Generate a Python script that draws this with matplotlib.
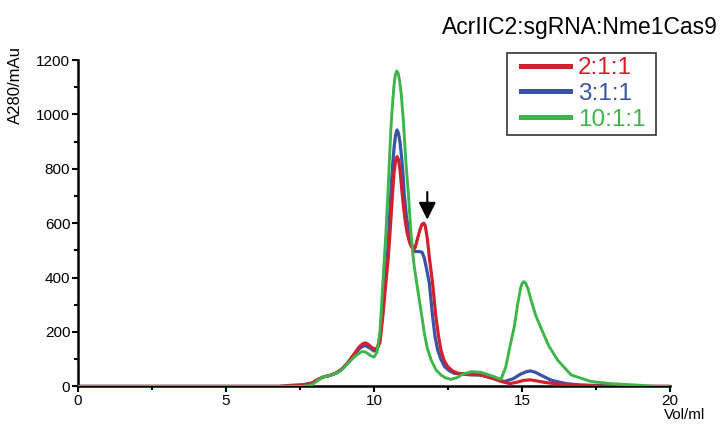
import matplotlib
matplotlib.use("Agg")
import matplotlib.pyplot as plt
from matplotlib.ticker import MultipleLocator
from matplotlib.patches import Rectangle

plt.rcParams['font.family'] = ['Liberation Sans', 'DejaVu Sans']

# elution volume (ml) and A280 (mAu)
red_vol = [0, 6.8, 7.2, 7.6, 7.9, 8.1, 8.3, 8.5, 8.7, 8.9, 9.1, 9.3, 9.5, 9.6, 9.7, 9.8,
           9.9, 10.0, 10.1, 10.2, 10.3, 10.4, 10.48, 10.55, 10.63, 10.68, 10.73, 10.78,
           10.83, 10.88, 10.95, 11.0, 11.05, 11.12, 11.2, 11.27, 11.33, 11.39, 11.45,
           11.55, 11.62, 11.68, 11.73, 11.8, 11.88, 11.98, 12.09, 12.18, 12.26, 12.37,
           12.49, 12.65, 12.83, 13.3, 13.6, 14.0, 14.3, 14.6, 14.85, 15.05, 15.28, 15.5,
           15.8, 16.2, 16.6, 17.5, 18.0, 20]
red_abs = [0, 0, 2, 5, 12, 25, 35, 40, 48, 62, 85, 115, 145, 155, 160, 155,
           145, 138, 140, 160, 260, 380, 470, 580, 715, 790, 830, 845,
           833, 795, 710, 660, 610, 565, 530, 512, 505, 510, 535,
           575, 596, 600, 592, 545, 465, 379, 257, 185, 134, 95,
           73, 57, 48, 45, 42, 30, 18, 10, 16, 22, 24, 20,
           14, 9, 5, 2, 0, 0]

blue_vol = [0, 6.8, 7.2, 7.6, 7.9, 8.1, 8.3, 8.5, 8.7, 8.9, 9.1, 9.3, 9.5, 9.6, 9.7, 9.8,
            9.9, 10.0, 10.1, 10.2, 10.3, 10.38, 10.46, 10.57, 10.63, 10.68, 10.73, 10.78,
            10.83, 10.88, 10.93, 10.98, 11.02, 11.1, 11.2, 11.3, 11.38, 11.5, 11.62, 11.7,
            11.78, 11.87, 11.98, 12.06, 12.15, 12.26, 12.38, 12.55, 12.71, 13.3, 13.61,
            14.0, 14.4, 14.7, 14.95, 15.15, 15.28, 15.45, 15.7, 16.0, 16.5, 17.0, 18.0,
            18.5, 20]
blue_abs = [0, 0, 4, 6, 12, 25, 35, 40, 48, 62, 85, 112, 138, 146, 150, 145,
            138, 130, 135, 175, 280, 380, 491, 710, 815, 880, 925, 943,
            930, 897, 845, 780, 710, 620, 555, 510, 496, 496, 494, 472,
            430, 379, 257, 185, 134, 100, 73, 57, 48, 42, 42,
            30, 18, 28, 45, 54, 57, 52, 38, 22, 10, 5, 2,
            0, 0]

green_vol = [0, 7.6, 7.9, 8.1, 8.3, 8.5, 8.7, 8.9, 9.1, 9.3, 9.5, 9.6, 9.7, 9.8, 9.9,
             10.0, 10.1, 10.2, 10.3, 10.4, 10.47, 10.57, 10.62, 10.67, 10.72, 10.77,
             10.82, 10.87, 10.92, 10.99, 11.08, 11.16, 11.25, 11.3, 11.36, 11.45, 11.53,
             11.6, 11.7, 11.8, 11.93, 12.1, 12.26, 12.4, 12.6, 12.8, 13.0, 13.3, 13.6,
             14.0, 14.29, 14.45, 14.6, 14.74, 14.85, 14.95, 15.0, 15.06, 15.12, 15.2,
             15.3, 15.45, 15.64, 15.9, 16.2, 16.66, 17.33, 18.0, 19.0, 19.5, 20]
green_abs = [0, 0, 5, 22, 35, 40, 47, 60, 82, 105, 122, 128, 127, 120, 112,
             108, 125, 200, 380, 560, 710, 945, 1030, 1100, 1145, 1160,
             1150, 1120, 1075, 980, 820, 710, 563, 500, 440, 375, 318,
             270, 196, 140, 97, 60, 42, 32, 26, 32, 45, 54, 52,
             38, 26, 70, 150, 220, 300, 360, 378, 385, 380, 360,
             320, 265, 215, 150, 97, 42, 18, 10, 4, 0, 0]

labels = ['2:1:1', '3:1:1', '10:1:1']
colors = ['#d21f2f', '#3a53a4', '#3db54a']

fig = plt.figure(figsize=(7.22, 4.26), dpi=100)
ax = fig.add_axes([0.108, 0.093, 0.820, 0.766])

ax.plot(red_vol, red_abs, color=colors[0], lw=2.3, label=labels[0], zorder=3)
ax.plot(blue_vol, blue_abs, color=colors[1], lw=2.3, label=labels[1], zorder=2)
ax.plot(green_vol, green_abs, color=colors[2], lw=2.1, label=labels[2], zorder=4)

ax.set_xlim(0, 20)
ax.set_ylim(0, 1200)
ax.xaxis.set_major_locator(MultipleLocator(5))
ax.xaxis.set_minor_locator(MultipleLocator(2.5))
ax.yaxis.set_major_locator(MultipleLocator(200))
ax.yaxis.set_minor_locator(MultipleLocator(100))
ax.tick_params(which='both', direction='out', width=1.5, labelsize=11)
ax.tick_params(which='major', length=4)
ax.tick_params(which='minor', length=3)
ax.tick_params(axis='x', pad=1.5)
ax.tick_params(axis='y', pad=1.5)

for s in ['top', 'right']:
    ax.spines[s].set_visible(False)
for s in ['left', 'bottom']:
    ax.spines[s].set_linewidth(1.8)

# arrow over the 2:1:1 shoulder
ax.annotate('', xy=(11.8, 603), xytext=(11.8, 725),
            arrowprops=dict(arrowstyle='-|>', color='black', lw=1.5, mutation_scale=26))

fig.text(0.021, 0.80, 'A280/mAu', rotation=90, fontsize=12, ha='center', va='center')
fig.text(0.948, 0.026, 'Vol/ml', fontsize=11, ha='center', va='center')
fig.text(0.994, 0.935, 'AcrIIC2:sgRNA:Nme1Cas9', fontsize=16.5, ha='right', va='center')

# legend box drawn separately so the padding matches
fig.patches.append(Rectangle((507 / 722, 1 - 135 / 426), 149 / 722, 82 / 426,
                             transform=fig.transFigure, fill=False,
                             edgecolor='#333333', lw=1.2))
leg = ax.legend(loc='upper left', bbox_to_anchor=(521 / 722, 1 - 57 / 426),
                bbox_transform=fig.transFigure, fontsize=17.5, frameon=False,
                handlelength=2.0, labelspacing=0.16, borderpad=0,
                handletextpad=0.33, labelcolor='linecolor', borderaxespad=0)
for line in leg.get_lines():
    line.set_linewidth(3.6)

fig.savefig('out.png', dpi=100)
